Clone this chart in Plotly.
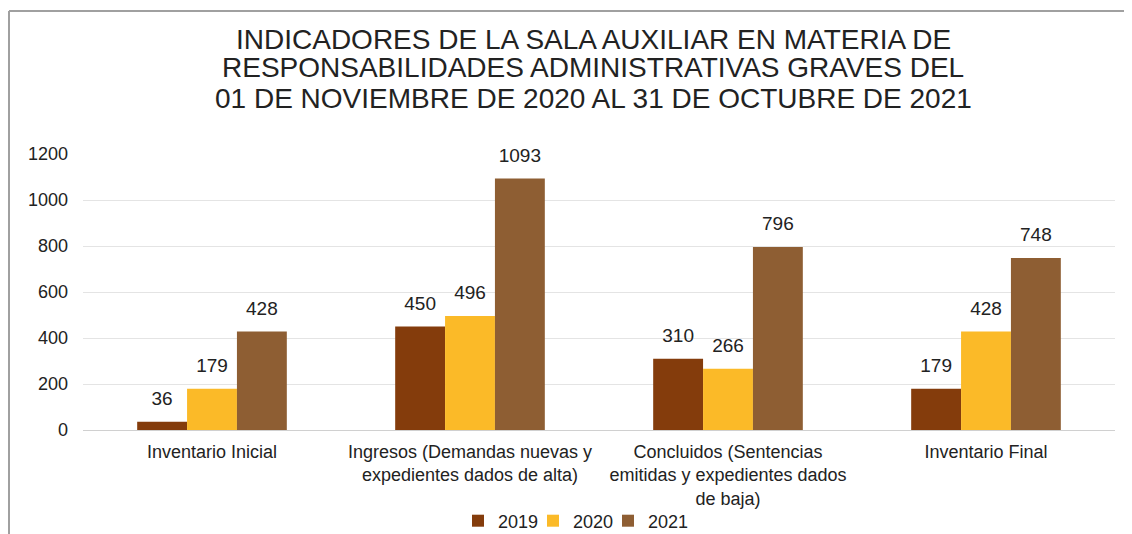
import plotly.graph_objects as go

categorias = [
    "Inventario Inicial",
    "Ingresos (Demandas nuevas y<br>expedientes dados de alta)",
    "Concluidos (Sentencias<br>emitidas y expedientes dados<br>de baja)",
    "Inventario Final",
]
anios = ["2019", "2020", "2021"]
valores_2019 = [36, 450, 310, 179]
valores_2020 = [179, 496, 266, 428]
valores_2021 = [428, 1093, 796, 748]
colores = ["#843C0C", "#FBBA28", "#8E5E33"]
titulo = [
    "INDICADORES DE LA SALA AUXILIAR EN MATERIA DE",
    "RESPONSABILIDADES ADMINISTRATIVAS GRAVES DEL",
    "01 DE NOVIEMBRE DE 2020 AL 31 DE OCTUBRE DE 2021",
]

# la página añade 8px de margen, así que la figura es algo más pequeña
W, H = 1124, 526
L, R, T, B = 75, 17, 146, 104
pw = W - L - R
ph = H - T - B
GAP = 0.42


def py(pix):
    # píxel (desde arriba de la figura) -> coordenada paper
    return (H - B - pix) / ph


def px(pix):
    return (pix - L) / pw


fig = go.Figure()
series = [valores_2019, valores_2020, valores_2021]
leyendas = ["legend", "legend2", "legend3"]
for anio, vals, col, ley in zip(anios, series, colores, leyendas):
    fig.add_trace(go.Bar(
        x=categorias, y=vals, name=anio, legend=ley,
        marker=dict(color=col, line=dict(width=0)),
    ))

# etiquetas de datos (separadas un poco más de la barra)
for anio, vals in zip(anios, series):
    fig.add_trace(go.Scatter(
        x=categorias, y=vals, mode="markers+text",
        text=[str(v) for v in vals], textposition="top center",
        textfont=dict(size=19, color="#222222"),
        marker=dict(size=18, color="rgba(0,0,0,0)"),
        showlegend=False, hoverinfo="skip", cliponaxis=False,
    ))

# marco del gráfico (borde izquierdo y superior)
fig.add_shape(type="line", xref="paper", yref="paper",
              x0=px(1), x1=px(W), y0=py(3), y1=py(3),
              line=dict(color="#A0A0A0", width=2))
fig.add_shape(type="line", xref="paper", yref="paper",
              x0=px(1), x1=px(1), y0=py(3), y1=py(H),
              line=dict(color="#A0A0A0", width=2))

# título en tres líneas
for linea, yc in zip(titulo, [32, 60, 90]):
    fig.add_annotation(text=linea, xref="paper", yref="paper",
                       x=px(585), y=py(yc), xanchor="center", yanchor="middle",
                       showarrow=False, font=dict(size=28, color="#222222"))

# una leyenda por serie, para acercar las entradas como en el original
ley_comun = dict(orientation="h", xanchor="left", y=py(513), yanchor="middle",
                 bgcolor="rgba(0,0,0,0)", font=dict(size=18), itemwidth=30)

fig.update_layout(
    width=W, height=H,
    margin=dict(l=L, r=R, t=T, b=B, autoexpand=False),
    paper_bgcolor="white", plot_bgcolor="white",
    font=dict(family="Liberation Sans, Arial, sans-serif", color="#222222"),
    barmode="group", bargap=GAP, bargroupgap=0,
    scattermode="group", scattergap=GAP,
    xaxis=dict(showgrid=False, showline=False, ticks="", automargin=False,
               tickfont=dict(size=18), ticklabelstandoff=9),
    yaxis=dict(range=[0, 1200], dtick=200, showgrid=True, automargin=False,
               gridcolor="#E4E4E4", gridwidth=1,
               zeroline=True, zerolinecolor="#D0D0D0", zerolinewidth=1,
               tickfont=dict(size=18), ticklabelstandoff=14),
    legend=dict(x=px(450), **ley_comun),
    legend2=dict(x=px(525), **ley_comun),
    legend3=dict(x=px(600), **ley_comun),
    showlegend=True,
)

fig.write_html("out.html")
